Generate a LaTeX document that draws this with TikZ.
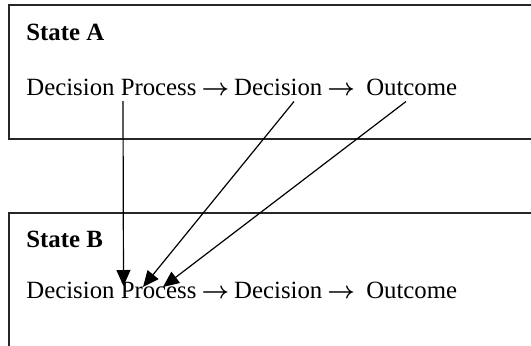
\documentclass[tikz,border=0pt]{standalone}
\usepackage{fontspec}
\setmainfont{Liberation Serif}
\usetikzlibrary{arrows.meta}

\newcommand{\leadsarrow}{\makebox[1.02em]{\boldmath$\rightarrow$}}

\tikzset{
    statebox/.style={draw=black!85, line width=0.7pt},
    rowtext/.style={anchor=base west, inner sep=0pt, font=\fontsize{12.4}{14}\selectfont},
    statetitle/.style={rowtext, font=\fontsize{12.4}{14}\selectfont\bfseries},
    influence/.style={black, line width=0.6pt, -{Triangle[length=8pt,width=7pt]}}
}

\begin{document}
\begin{tikzpicture}[x=0.5pt,y=0.5pt]
        \useasboundingbox (0,0) rectangle (531,345);

        % the two states, both running off the right edge
        \draw [statebox] (540,340) -- (9,340) -- (9,206) -- (540,206);
        \draw [statebox] (540,132) -- (9,132) -- (9,-10);

        \node [statetitle] (titleA) at (26,305) {State A};
        \node [rowtext] (rowA) at (26,250) {Decision Process \leadsarrow{} Decision \leadsarrow\ \ Outcome};

        \node [statetitle] (titleB) at (26,98) {State B};
        \node [rowtext] (rowB) at (26,47) {Decision Process \leadsarrow{} Decision \leadsarrow\ \ Outcome};

        % where the arrows leave state A and land in state B
        \coordinate (fromProc) at (123,244);
        \coordinate (fromDec) at (294,243.5);
        \coordinate (fromOut) at (406,243.5);
        \coordinate (toProcA) at (123.5,59);
        \coordinate (toProcB) at (143,58);
        \coordinate (toProcC) at (163,58);

        \draw [influence] (fromProc) -- (toProcA);
        \draw [influence] (fromDec) -- (toProcB);
        \draw [influence] (fromOut) -- (toProcC);
\end{tikzpicture}
\end{document}
